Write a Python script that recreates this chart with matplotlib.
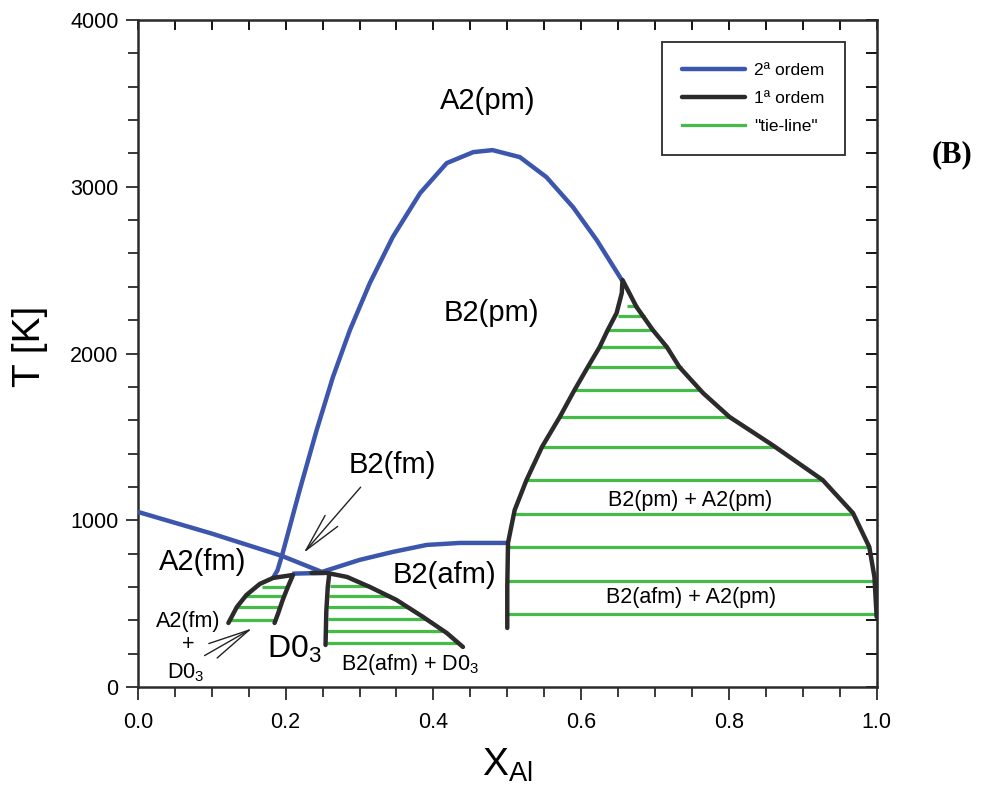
import numpy as np
import matplotlib.pyplot as plt
from matplotlib.ticker import MultipleLocator

plt.rcParams['font.family'] = ['Liberation Sans', 'DejaVu Sans']
plt.rcParams['mathtext.fontset'] = 'custom'
plt.rcParams['mathtext.rm'] = 'Liberation Sans'
plt.rcParams['mathtext.it'] = 'Liberation Sans:italic'

# cores
AZUL = '#3d56ad'
PRETO = '#2b2b2b'
VERDE = '#45bb48'

# linha de 2a ordem A2/B2 (ordem-desordem)
x_ab = [0.183, 0.189, 0.196, 0.219, 0.242, 0.264, 0.287, 0.314, 0.345, 0.382,
        0.418, 0.454, 0.480, 0.517, 0.553, 0.589, 0.621, 0.655]
T_ab = [654, 700, 804, 1181, 1541, 1859, 2141, 2423, 2699, 2962,
        3142, 3208, 3220, 3178, 3058, 2878, 2681, 2441]

# linha magnetica (Curie / Neel)
x_mag = [0.0, 0.10, 0.195, 0.249, 0.30, 0.345, 0.391, 0.436, 0.499]
T_mag = [1050, 920, 786, 690, 762, 810, 852, 864, 864]

# segmento azul no topo do D03
x_d03 = [0.212, 0.249]
T_d03 = [680, 684]

# domo A2(fm) + D03
x_dome1 = [0.1225, 0.134, 0.147, 0.165, 0.183, 0.21, 0.203, 0.196, 0.19, 0.185]
T_dome1 = [384, 480, 552, 618, 654, 672, 600, 522, 444, 384]

# domo B2(afm) + D03
x_dome2 = [0.235, 0.256, 0.283, 0.314, 0.35, 0.386, 0.418, 0.44]
T_dome2 = [684, 684, 660, 600, 522, 420, 324, 240]
x_dome2_v = [0.259, 0.257, 0.255, 0.254]
T_dome2_v = [676, 600, 450, 252]

# regiao B2 + A2(pm)
x_big = [0.500, 0.500, 0.501, 0.510, 0.526, 0.547, 0.571, 0.591, 0.609, 0.625,
         0.636, 0.648, 0.655, 0.656, 0.675, 0.697, 0.716, 0.733, 0.765, 0.801,
         0.859, 0.927, 0.968, 0.990, 0.997, 1.000]
T_big = [354, 600, 864, 1061, 1241, 1440, 1619, 1781, 1919, 2039,
         2141, 2243, 2363, 2441, 2279, 2141, 2039, 1919, 1763, 1619,
         1451, 1241, 1043, 840, 660, 420]

# tie-lines
T_tie1 = [602, 546, 482, 402]
xl_tie1 = [0.168, 0.145, 0.133, 0.124]
xr_tie1 = [0.203, 0.196, 0.189, 0.185]

T_tie2 = [606, 546, 480, 408, 336, 264]
xl_tie2 = [0.260, 0.259, 0.258, 0.257, 0.256, 0.256]
xr_tie2 = [0.314, 0.342, 0.366, 0.390, 0.412, 0.432]

T_tie3 = [2285, 2225, 2141, 2039, 1919, 1781, 1619, 1440, 1241, 1037, 840, 636, 438]
xl_tie3 = [0.662, 0.650, 0.636, 0.626, 0.610, 0.591, 0.571, 0.547, 0.526, 0.510, 0.503, 0.499, 0.499]
xr_tie3 = [0.677, 0.686, 0.698, 0.716, 0.736, 0.760, 0.804, 0.862, 0.927, 0.970, 0.990, 0.997, 1.000]

fig = plt.figure(figsize=(9.85, 7.93), dpi=100)
ax = fig.add_axes([0.140, 0.1337, 0.750, 0.841])

# tie-lines primeiro (ficam por baixo)
ax.hlines(T_tie1, xl_tie1, xr_tie1, colors=VERDE, lw=2.3, zorder=2)
ax.hlines(T_tie2, xl_tie2, xr_tie2, colors=VERDE, lw=2.3, zorder=2)
ax.hlines(T_tie3, xl_tie3, xr_tie3, colors=VERDE, lw=2.3, zorder=2)

ax.plot(x_ab, T_ab, color=AZUL, lw=3.2, solid_capstyle='round', solid_joinstyle='round',
        zorder=3, label='2ª ordem')
ax.plot(x_mag, T_mag, color=AZUL, lw=3.2, solid_joinstyle='round', zorder=3)
ax.plot(x_d03, T_d03, color=AZUL, lw=3.2, zorder=3)

ax.plot(x_big, T_big, color=PRETO, lw=3.2, solid_capstyle='round', solid_joinstyle='round',
        zorder=4, label='1ª ordem')
ax.plot(x_dome1, T_dome1, color=PRETO, lw=3.2, solid_capstyle='round', solid_joinstyle='round', zorder=4)
ax.plot(x_dome2, T_dome2, color=PRETO, lw=3.2, solid_capstyle='round', solid_joinstyle='round', zorder=4)
ax.plot(x_dome2_v, T_dome2_v, color=PRETO, lw=3.2, solid_capstyle='round', zorder=4)

ax.plot([], [], color=VERDE, lw=2.3, label='"tie-line"')

ax.set_xlim(0, 1.0)
ax.set_ylim(0, 4000)
ax.xaxis.set_major_locator(MultipleLocator(0.2))
ax.xaxis.set_minor_locator(MultipleLocator(0.05))
ax.yaxis.set_major_locator(MultipleLocator(1000))
ax.yaxis.set_minor_locator(MultipleLocator(200))
ax.xaxis.set_major_formatter(plt.FormatStrFormatter('%.1f'))

ax.tick_params(which='both', direction='out', bottom=True, left=True, top=False, right=False,
               width=1.3, color=PRETO)
ax.tick_params(which='major', length=9)
ax.tick_params(which='minor', length=7)
ax.tick_params(axis='y', labelsize=15.5, pad=5)
ax.tick_params(axis='x', labelsize=15.5, pad=9)
for s in ax.spines.values():
    s.set_linewidth(1.8)
    s.set_color(PRETO)

# ticks internos no topo e na direita
ax2 = ax.secondary_yaxis('right')
ax2.yaxis.set_major_locator(MultipleLocator(200))
ax2.tick_params(direction='in', length=8, width=1.3, labelright=False)
ax3 = ax.secondary_xaxis('top')
ax3.xaxis.set_major_locator(MultipleLocator(0.05))
ax3.tick_params(direction='in', length=7, width=1.3, labeltop=False)

ax.set_ylabel('T [K]', fontsize=28)
ax.yaxis.set_label_coords(-0.122, 0.511)
ax.set_xlabel(r'X$_{\mathrm{Al}}$', fontsize=28)
ax.xaxis.set_label_coords(0.5, -0.09)

# rotulos das fases
big = 21
small = 15.5
ax.text(0.474, 3514, 'A2(pm)', fontsize=big, ha='center', va='center')
ax.text(0.478, 2243, 'B2(pm)', fontsize=big, ha='center', va='center')
ax.text(0.345, 1331, 'B2(fm)', fontsize=big, ha='center', va='center')
ax.text(0.087, 750, 'A2(fm)', fontsize=big, ha='center', va='center')
ax.text(0.415, 672, 'B2(afm)', fontsize=big, ha='center', va='center')
ax.text(0.212, 174, r'D0$_3$', fontsize=23, ha='center', va='baseline')
ax.text(0.068, 390, 'A2(fm)', fontsize=small, ha='center', va='center')
ax.text(0.068, 252, '+', fontsize=small, ha='center', va='center')
ax.text(0.065, 54, r'D0$_3$', fontsize=small, ha='center', va='baseline')
ax.text(0.368, 102, r'B2(afm) + D0$_3$', fontsize=small, ha='center', va='baseline')
ax.text(0.748, 1121, 'B2(pm) + A2(pm)', fontsize=small, ha='center', va='center')
ax.text(0.749, 534, 'B2(afm) + A2(pm)', fontsize=small, ha='center', va='center')

ax.annotate('', xy=(0.222, 792), xytext=(0.304, 1211),
            arrowprops=dict(arrowstyle='->,head_length=1.4,head_width=0.3',
                            mutation_scale=20, color='#222222', lw=1.0))
ax.annotate('', xy=(0.158, 360), xytext=(0.087, 180),
            arrowprops=dict(arrowstyle='->,head_length=1.5,head_width=0.3',
                            mutation_scale=20, color='#222222', lw=1.0))

leg = ax.legend(loc='upper right', bbox_to_anchor=(0.957, 0.967), fontsize=12.5,
                frameon=True, fancybox=False, edgecolor=PRETO, framealpha=1,
                borderaxespad=0.0, handlelength=3.6, labelspacing=0.75,
                borderpad=1.2, handletextpad=0.5)
leg.get_frame().set_linewidth(1.3)

fig.text(0.966, 0.805, '(B)', fontsize=22, fontweight='bold', family='Liberation Serif',
         ha='center', va='center')

fig.savefig('out.png', dpi=100)
